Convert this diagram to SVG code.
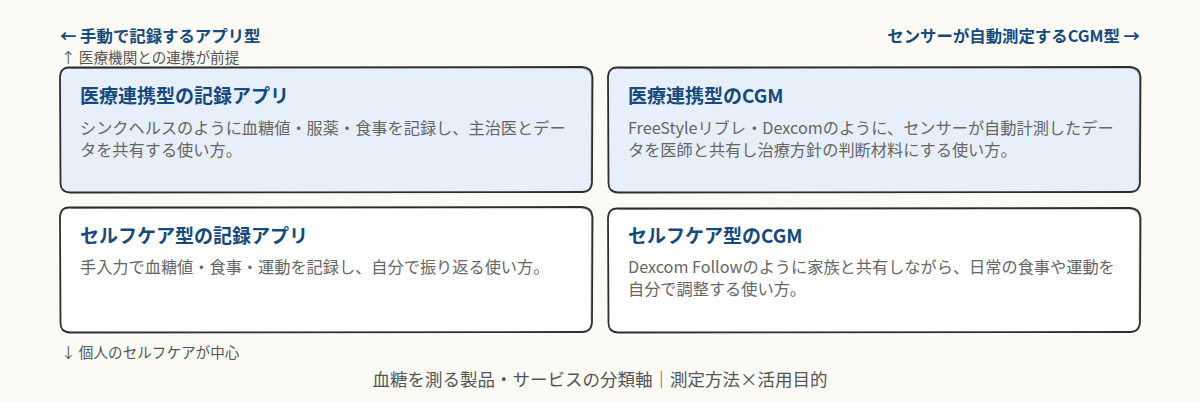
<svg xmlns="http://www.w3.org/2000/svg" width="1200" height="402" viewBox="0 0 1200 402">
<style>
.bg{fill:#fbfaf4}
.box{stroke:#2e2e2e;stroke-width:1.8;stroke-linejoin:round}
.box2{fill:none;stroke:#2e2e2e;stroke-width:0.8;opacity:0.45}
.med{fill:#e7effa}
.self{fill:#ffffff}
.t{font-family:"Noto Sans CJK JP","Noto Sans",sans-serif;font-weight:700;font-size:19px;fill:#164a7c}
.b{font-family:"Noto Sans CJK JP","Noto Sans",sans-serif;font-size:16.2px;fill:#666666}
.ax{font-family:"Noto Sans CJK JP","Noto Sans",sans-serif;font-weight:700;font-size:16.4px;fill:#164a7c}
.sub{font-family:"Noto Sans CJK JP","Noto Sans",sans-serif;font-size:14.6px;fill:#555555}
.cap{font-family:"Noto Sans CJK JP","Noto Sans",sans-serif;font-size:17.5px;fill:#555555}
</style>
<rect class="bg" x="0" y="0" width="1200" height="402"/>
<g id="axis-labels">
<text class="ax" x="60" y="42">← 手動で記録するアプリ型</text>
<text class="sub" x="61" y="63">↑ 医療機関との連携が前提</text>
<text class="ax" x="1140" y="42" text-anchor="end">センサーが自動測定するCGM型 →</text>
<text class="sub" x="61" y="358">↓ 個人のセルフケアが中心</text>
</g>
<g id="connectors"></g>
<g id="node-med-app">
<path class="box med" d="M70,67.5 L582,67 Q592,67.5 592.5,77 L592,182 Q591.5,192 582,192 L70,192.5 Q60,192 60.5,182 L60,77 Q60.5,67 70,67.5 Z"/>
<path class="box2" d="M71,68.5 L581,68 Q591,69 591.5,78 L591,181"/>
<text class="t" x="80" y="103">医療連携型の記録アプリ</text>
<text class="b" x="80" y="134">シンクヘルスのように血糖値・服薬・食事を記録し、主治医とデー</text>
<text class="b" x="80" y="156">タを共有する使い方。</text>
</g>
<g id="node-med-cgm">
<path class="box med" d="M618,67.5 L1130,67 Q1140,67.5 1140.5,77 L1140,182 Q1139.5,192 1130,192 L618,192.5 Q608,192 608.5,182 L608,77 Q608.5,67 618,67.5 Z"/>
<path class="box2" d="M619,68.5 L1129,68 Q1139,69 1139.5,78 L1139,181"/>
<text class="t" x="628" y="103">医療連携型のCGM</text>
<text class="b" x="628" y="134">FreeStyleリブレ・Dexcomのように、センサーが自動計測したデー</text>
<text class="b" x="628" y="156">タを医師と共有し治療方針の判断材料にする使い方。</text>
</g>
<g id="node-self-app">
<path class="box self" d="M70,207.5 L582,207 Q592,207.5 592.5,217 L592,322 Q591.5,332 582,332 L70,332.5 Q60,332 60.5,322 L60,217 Q60.5,207 70,207.5 Z"/>
<path class="box2" d="M71,208.5 L581,208 Q591,209 591.5,218 L591,321"/>
<text class="t" x="80" y="243">セルフケア型の記録アプリ</text>
<text class="b" x="80" y="273">手入力で血糖値・食事・運動を記録し、自分で振り返る使い方。</text>
</g>
<g id="node-self-cgm">
<path class="box self" d="M618,208.5 L1130,208 Q1140,208.5 1140.5,218 L1140,322 Q1139.5,332 1130,332 L618,332.5 Q608,332 608.5,322 L608,218 Q608.5,208 618,208.5 Z"/>
<path class="box2" d="M619,209.5 L1129,209 Q1139,210 1139.5,219 L1139,321"/>
<text class="t" x="628" y="243">セルフケア型のCGM</text>
<text class="b" x="628" y="273">Dexcom Followのように家族と共有しながら、日常の食事や運動を</text>
<text class="b" x="628" y="295">自分で調整する使い方。</text>
</g>
<text class="cap" x="600" y="386" text-anchor="middle">血糖を測る製品・サービスの分類軸｜測定方法×活用目的</text>
</svg>
